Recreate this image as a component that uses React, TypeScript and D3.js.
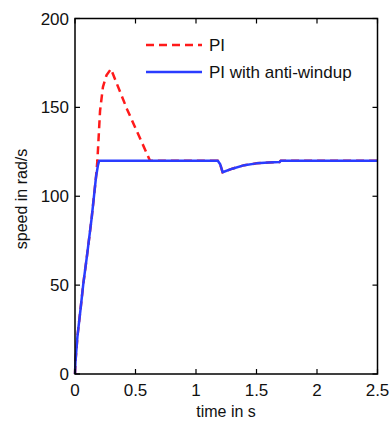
import React, { useEffect, useRef } from 'react';
import * as d3 from 'd3';

// anti-windup blue trace
const blueTime = [0, 0.004, 0.02, 0.045, 0.069, 0.1, 0.138, 0.174, 0.19, 0.2, 1.18, 1.2, 1.22, 1.3, 1.4, 1.5, 1.6, 1.69, 1.7, 2.5];
const blueSpeed = [0, 7, 21, 36, 51, 67, 88, 111, 117.5, 120, 120, 118, 113.5, 115.5, 117.5, 118.5, 119, 119.2, 120, 120];

// plain PI red trace
const redTime = [0, 0.004, 0.02, 0.045, 0.069, 0.1, 0.138, 0.174, 0.185, 0.207, 0.231, 0.26, 0.297, 0.43, 0.62, 1.18, 1.2, 1.22, 1.3, 1.4, 1.5, 1.6, 1.69, 1.7, 2.5];
const redSpeed = [0, 7, 21, 36, 51, 67, 88, 111, 120, 148, 161.5, 168, 171.6, 149, 120, 120, 118, 113.5, 115.5, 117.5, 118.5, 119, 119.2, 120, 120];

const xTicks = [0, 0.5, 1, 1.5, 2, 2.5];
const yTicks = [0, 50, 100, 150, 200];

const legendLabels = ['PI', 'PI with anti-windup'];

const App: React.FC = () => {
  const svgRef = useRef<SVGSVGElement | null>(null);

  useEffect(() => {
    if (!svgRef.current) return;
    const svg = d3.select(svgRef.current);
    svg.selectAll('*').remove();

    const left = 75;
    const right = 377.5;
    const top = 18.5;
    const bottom = 374;
    const font = 'Liberation Sans, Arial, Helvetica, sans-serif';

    const x = d3.scaleLinear().domain([0, 2.5]).range([left, right]);
    const y = d3.scaleLinear().domain([0, 200]).range([bottom, top]);

    const line = d3
      .line<[number, number]>()
      .x((d) => x(d[0]))
      .y((d) => y(d[1]));

    const red = redTime.map((t, i) => [t, redSpeed[i]] as [number, number]);
    const blue = blueTime.map((t, i) => [t, blueSpeed[i]] as [number, number]);

    svg
      .append('path')
      .attr('d', line(red) ?? '')
      .attr('fill', 'none')
      .attr('stroke', '#ff1a1a')
      .attr('stroke-width', 2.5)
      .attr('stroke-dasharray', '8,5');

    svg
      .append('path')
      .attr('d', line(blue) ?? '')
      .attr('fill', 'none')
      .attr('stroke', '#2a3cff')
      .attr('stroke-width', 2.5)
      .attr('stroke-linejoin', 'round');

    // box
    svg
      .append('rect')
      .attr('x', left)
      .attr('y', top)
      .attr('width', right - left)
      .attr('height', bottom - top)
      .attr('fill', 'none')
      .attr('stroke', '#000')
      .attr('stroke-width', 1.5);

    const tickLen = 5;

    xTicks.forEach((t) => {
      svg.append('line')
        .attr('x1', x(t)).attr('x2', x(t))
        .attr('y1', bottom).attr('y2', bottom - tickLen)
        .attr('stroke', '#000').attr('stroke-width', 1.2);
      svg.append('line')
        .attr('x1', x(t)).attr('x2', x(t))
        .attr('y1', top).attr('y2', top + tickLen)
        .attr('stroke', '#000').attr('stroke-width', 1.2);
      svg.append('text')
        .attr('x', x(t))
        .attr('y', 396)
        .attr('text-anchor', 'middle')
        .attr('font-family', font)
        .attr('font-size', 17)
        .attr('fill', '#111')
        .text(String(t));
    });

    yTicks.forEach((v) => {
      svg.append('line')
        .attr('x1', left).attr('x2', left + tickLen)
        .attr('y1', y(v)).attr('y2', y(v))
        .attr('stroke', '#000').attr('stroke-width', 1.2);
      svg.append('line')
        .attr('x1', right).attr('x2', right - tickLen)
        .attr('y1', y(v)).attr('y2', y(v))
        .attr('stroke', '#000').attr('stroke-width', 1.2);
      svg.append('text')
        .attr('x', 69)
        .attr('y', y(v))
        .attr('dy', '0.36em')
        .attr('text-anchor', 'end')
        .attr('font-family', font)
        .attr('font-size', 17)
        .attr('fill', '#111')
        .text(String(v));
    });

    // axis labels
    svg.append('text')
      .attr('x', 226)
      .attr('y', 417)
      .attr('text-anchor', 'middle')
      .attr('font-family', font)
      .attr('font-size', 16)
      .attr('fill', '#111')
      .text('time in s');

    svg.append('text')
      .attr('transform', 'translate(27,199) rotate(-90)')
      .attr('text-anchor', 'middle')
      .attr('font-family', font)
      .attr('font-size', 16)
      .attr('fill', '#111')
      .text('speed in rad/s');

    // legend
    const legend = [
      { label: legendLabels[0], color: '#ff1a1a', dash: '8,5', yy: 45 },
      { label: legendLabels[1], color: '#2a3cff', dash: null, yy: 72 },
    ];
    legend.forEach((l) => {
      svg.append('line')
        .attr('x1', 146).attr('x2', 202)
        .attr('y1', l.yy).attr('y2', l.yy)
        .attr('stroke', l.color)
        .attr('stroke-width', 2.5)
        .attr('stroke-dasharray', l.dash);
      svg.append('text')
        .attr('x', 209)
        .attr('y', l.yy)
        .attr('dy', '0.36em')
        .attr('font-family', font)
        .attr('font-size', 17)
        .attr('fill', '#111')
        .text(l.label);
    });
  }, []);

  return (
    <svg
      ref={svgRef}
      width={391}
      height={421}
      style={{ position: 'absolute', left: 0, top: 0, background: '#fff' }}
    />
  );
};

export default App;
